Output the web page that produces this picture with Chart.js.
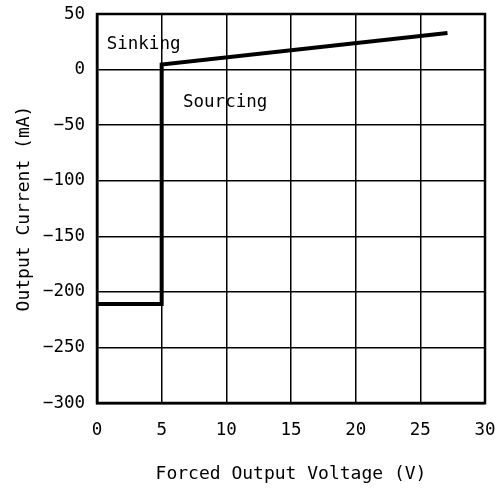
<!DOCTYPE html>
<html>
<head>
<meta charset="utf-8">
<script src="https://cdn.jsdelivr.net/npm/chart.js@4/dist/chart.umd.min.js"></script>
<style>
  html, body { margin: 0; padding: 0; background: #fff; }
  #wrap { width: 499px; height: 489px; }
</style>
</head>
<body>
<div id="wrap"><canvas id="chart"></canvas></div>
<script>
// Data
const voltage = [0, 5, 5, 27.1];
const current = [-211, -211, 4.5, 33];

const xTicks = [0, 5, 10, 15, 20, 25, 30];
const yTicks = [-300, -250, -200, -150, -100, -50, 0, 50];

// text labels placed in data units
const notes = [
  { text: 'Sinking', x: 0.75, y: 22.5 },
  { text: 'Sourcing', x: 6.65, y: -29.7 }
];

const font = 'DejaVu Sans Mono';
const fontSize = 18;

const notesPlugin = {
  id: 'notes',
  afterDatasetsDraw(chart) {
    const { ctx, scales, chartArea } = chart;
    ctx.save();
    ctx.strokeStyle = '#000';
    ctx.lineWidth = 2.5;
    ctx.strokeRect(chartArea.left, chartArea.top, chartArea.right - chartArea.left, chartArea.bottom - chartArea.top);
    ctx.fillStyle = '#000';
    ctx.font = '17.5px "' + font + '"';
    ctx.textAlign = 'left';
    ctx.textBaseline = 'middle';
    notes.forEach(n => {
      ctx.fillText(n.text, scales.x.getPixelForValue(n.x), scales.y.getPixelForValue(n.y));
    });
    ctx.restore();
  }
};

new Chart(document.getElementById('chart'), {
  type: 'scatter',
  data: {
    datasets: [{
      data: voltage.map((v, i) => ({ x: v, y: current[i] })),
      showLine: true,
      borderColor: '#000',
      borderWidth: 4,
      pointRadius: 0,
      borderCapStyle: 'butt',
      borderJoinStyle: 'miter'
    }]
  },
  options: {
    responsive: true,
    maintainAspectRatio: false,
    animation: false,
    layout: { padding: { top: 14, right: 14, left: 0, bottom: 0 } },
    plugins: { legend: { display: false }, tooltip: { enabled: false } },
    scales: {
      x: {
        type: 'linear',
        min: 0, max: 30,
        afterBuildTicks(s) { s.ticks = xTicks.map(v => ({ value: v })); },
        afterFit(s) { s.height = 86; s.paddingLeft = 0; s.paddingRight = 0; },
        grid: { color: '#000', lineWidth: 1.5, drawTicks: false },
        border: { color: '#000', width: 2.5 },
        ticks: { color: '#000', font: { family: font, size: 17.5 }, padding: 17, maxRotation: 0 },
        title: { display: true, text: 'Forced Output Voltage (V)', color: '#000', font: { family: font, size: fontSize }, padding: { top: 11 } }
      },
      y: {
        type: 'linear',
        min: -300, max: 50,
        afterBuildTicks(s) { s.ticks = yTicks.map(v => ({ value: v })); },
        afterFit(s) { s.width = 97; s.paddingTop = 0; s.paddingBottom = 0; },
        grid: { color: '#000', lineWidth: 1.5, drawTicks: false },
        border: { color: '#000', width: 2.5 },
        ticks: { color: '#000', font: { family: font, size: 17.5 }, padding: 12,
          callback: v => String(v).replace('-', '\u2212') },
        title: { display: true, text: 'Output Current (mA)', color: '#000', font: { family: font, size: fontSize }, padding: { top: 14, bottom: 4 } }
      }
    }
  },
  plugins: [notesPlugin]
});
</script>
</body>
</html>
